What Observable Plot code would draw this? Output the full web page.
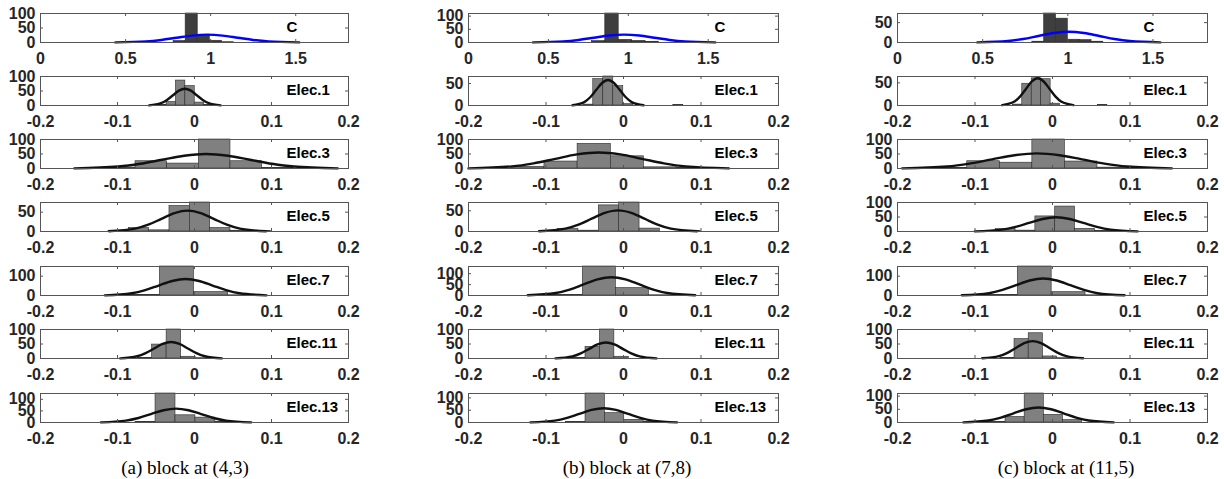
<!DOCTYPE html>
<html>
<head>
<meta charset="utf-8">
<script src="https://cdn.jsdelivr.net/npm/d3@7"></script>
<script src="https://cdn.jsdelivr.net/npm/@observablehq/plot@0.6"></script>
<style>
  html, body { margin: 0; padding: 0; background: #fff; }
  #fig { position: relative; width: 1224px; height: 479px; overflow: hidden; background: #fff; }
  .panel { position: absolute; }
  .panel svg { max-width: none !important; overflow: visible; }
  .cap { position: absolute; font-family: "Liberation Serif", "Times New Roman", serif; font-size: 19px; color: #000; transform: translate(-50%, -50%); white-space: nowrap; }
</style>
</head>
<body>
<div id="fig"></div>
<script>
// ---------- data ----------
const rowLabels = ["C", "Elec.1", "Elec.3", "Elec.5", "Elec.7", "Elec.11", "Elec.13"];
const captions = ["(a) block at (4,3)", "(b) block at (7,8)", "(c) block at (11,5)"];
const xTicksC = [0, 0.5, 1, 1.5];
const xTicksElec = [-0.2, -0.1, 0, 0.1, 0.2];
const cXMax = [1.81, 1.94, 1.82];

// column (a)
const yMaxA = [100, 100, 100, 75, 150, 100, 125];
const yTicksA = [[0, 50, 100], [0, 50, 100], [0, 50, 100], [0, 50], [0, 100], [0, 50, 100], [0, 50, 100]];
const binStartA = [0.782, -0.0485, -0.1177, -0.1117, -0.0893, -0.0738, -0.0765];
const binWidthA = [0.071, 0.0122, 0.0411, 0.0264, 0.0443, 0.0188, 0.0259];
const countsA = [[5, 100, 25, 6, 1], [2, 12, 86, 67, 10, 2], [3, 25, 17, 100, 25, 2], [2, 9, 3, 66, 75, 9, 2, 1], [3, 150, 18, 1], [2, 48, 100, 6, 1], [3, 125, 31, 21, 2]];
const fitXA = [
  [0.44, 0.62, 0.71, 0.80, 0.89, 0.98, 1.07, 1.16, 1.25, 1.34, 1.52],
  [-0.059, -0.0435, -0.03575, -0.028, -0.02025, -0.0125, -0.00475, 0.003, 0.01075, 0.0185, 0.034],
  [-0.156, -0.099, -0.0705, -0.042, -0.0135, 0.015, 0.0435, 0.072, 0.1005, 0.129, 0.186],
  [-0.111, -0.077, -0.06, -0.043, -0.026, -0.009, 0.008, 0.025, 0.042, 0.059, 0.093],
  [-0.1165, -0.0815, -0.064, -0.0465, -0.029, -0.0115, 0.006, 0.0235, 0.041, 0.0585, 0.0935],
  [-0.0965, -0.0745, -0.0635, -0.0525, -0.0415, -0.0305, -0.0195, -0.0085, 0.0025, 0.0135, 0.0355],
  [-0.1215, -0.089, -0.07275, -0.0565, -0.04025, -0.024, -0.00775, 0.0085, 0.02475, 0.041, 0.0735]
];
const fitYA = [
  [0.3, 3.7, 8.8, 16.4, 23.8, 27, 23.8, 16.4, 8.8, 3.7, 0.3],
  [0.6, 7.8, 18.8, 35.2, 51.2, 58, 51.2, 35.2, 18.8, 7.8, 0.6],
  [0.6, 6.8, 16.2, 30.3, 44.1, 50, 44.1, 30.3, 16.2, 6.8, 0.6],
  [0.6, 7.3, 17.5, 32.8, 47.7, 54, 47.7, 32.8, 17.5, 7.3, 0.6],
  [0.9, 11.5, 27.6, 51.6, 75, 85, 75, 51.6, 27.6, 11.5, 0.9],
  [0.6, 7.7, 18.5, 34.6, 50.3, 57, 50.3, 34.6, 18.5, 7.7, 0.6],
  [0.7, 8.1, 19.5, 36.4, 53, 60, 53, 36.4, 19.5, 8.1, 0.7]
];

// column (b)
const yMaxB = [110, 66, 100, 70, 133, 100, 118];
const yTicksB = [[0, 50, 100], [0, 50], [0, 50, 100], [0, 50], [0, 50, 100], [0, 50, 100], [0, 50, 100]];
const binStartB = [0.772, -0.0519, -0.1448, -0.0845, -0.0951, -0.0676, -0.074];
const binWidthB = [0.084, 0.0129, 0.0428, 0.0263, 0.0426, 0.0186, 0.025];
const countsB = [[5, 110, 10, 6, 2], [2, 60, 66, 44, 3, 0, 0, 0, 0, 1], [6, 24, 85, 42, 4, 2], [6, 2, 63, 70, 7, 0, 1], [2, 133, 34, 1], [2, 40, 100, 6], [2, 118, 38, 11, 2]];
const fitXB = [
  [0.404, 0.594, 0.689, 0.784, 0.879, 0.974, 1.069, 1.164, 1.259, 1.354, 1.544],
  [-0.0659, -0.0506, -0.04295, -0.0353, -0.02765, -0.02, -0.01235, -0.0047, 0.00295, 0.0106, 0.0259],
  [-0.2, -0.144, -0.116, -0.088, -0.06, -0.032, -0.004, 0.024, 0.052, 0.08, 0.136],
  [-0.109, -0.075, -0.058, -0.041, -0.024, -0.007, 0.01, 0.027, 0.044, 0.061, 0.095],
  [-0.1235, -0.0875, -0.0695, -0.0515, -0.0335, -0.0155, 0.0025, 0.0205, 0.0385, 0.0565, 0.0925],
  [-0.0877, -0.066, -0.05515, -0.0443, -0.03345, -0.0226, -0.01175, -0.0009, 0.00995, 0.0208, 0.0425],
  [-0.12, -0.0885, -0.07275, -0.057, -0.04125, -0.0255, -0.00975, 0.006, 0.02175, 0.0375, 0.069]
];
const fitYB = [
  [0.3, 4.1, 9.7, 18.2, 26.5, 30, 26.5, 18.2, 9.7, 4.1, 0.3],
  [0.6, 7.8, 18.8, 35.2, 51.2, 58, 51.2, 35.2, 18.8, 7.8, 0.6],
  [0.6, 7.4, 17.9, 33.4, 48.5, 55, 48.5, 33.4, 17.9, 7.4, 0.6],
  [0.6, 6.9, 16.6, 30.9, 45, 51, 45, 30.9, 16.6, 6.9, 0.6],
  [0.9, 11.4, 27.3, 50.9, 74.1, 84, 74.1, 50.9, 27.3, 11.4, 0.9],
  [0.6, 7.4, 17.9, 33.4, 48.5, 55, 48.5, 33.4, 17.9, 7.4, 0.6],
  [0.6, 7.8, 18.8, 35.2, 51.2, 58, 51.2, 35.2, 18.8, 7.8, 0.6]
];

// column (c)
const yMaxC = [73, 64, 100, 100, 150, 100, 110];
const yTicksC = [[0, 50], [0, 50], [0, 50, 100], [0, 50, 100], [0, 100], [0, 50, 100], [0, 50, 100]];
const binStartC = [0.7915, -0.0512, -0.152, -0.0733, -0.0885, -0.0673, -0.0853];
const binWidthC = [0.0695, 0.0122, 0.042, 0.0256, 0.0437, 0.0183, 0.0247];
const countsC = [[2, 73, 60, 7, 6, 2], [2, 48, 60, 58, 4, 0, 0, 0, 0, 1], [2, 25, 20, 100, 24, 3], [8, 3, 52, 86, 9, 2, 1], [2, 150, 17, 1], [2, 67, 87, 7, 1], [2, 21, 110, 29, 9]];
const fitXC = [
  [0.469, 0.648, 0.7375, 0.827, 0.9165, 1.006, 1.0955, 1.185, 1.2745, 1.364, 1.543],
  [-0.0649, -0.0496, -0.04195, -0.0343, -0.02665, -0.019, -0.01135, -0.0037, 0.00395, 0.0116, 0.0269],
  [-0.194, -0.136, -0.107, -0.078, -0.049, -0.02, 0.009, 0.038, 0.067, 0.096, 0.154],
  [-0.1002, -0.0652, -0.0477, -0.0302, -0.0127, 0.0048, 0.0223, 0.0398, 0.0573, 0.0748, 0.1098],
  [-0.117, -0.082, -0.0645, -0.047, -0.0295, -0.012, 0.0055, 0.023, 0.0405, 0.058, 0.093],
  [-0.0907, -0.069, -0.05815, -0.0473, -0.03645, -0.0256, -0.01475, -0.0039, 0.00695, 0.0178, 0.0395],
  [-0.1149, -0.0826, -0.06645, -0.0503, -0.03415, -0.018, -0.00185, 0.0143, 0.03045, 0.0466, 0.0789]
];
const fitYC = [
  [0.3, 3.7, 8.8, 16.4, 23.8, 27, 23.8, 16.4, 8.8, 3.7, 0.3],
  [0.7, 8.1, 19.5, 36.4, 53, 60, 53, 36.4, 19.5, 8.1, 0.7],
  [0.6, 7.0, 16.9, 31.5, 45.9, 52, 45.9, 31.5, 16.9, 7.0, 0.6],
  [0.5, 6.6, 15.9, 29.7, 43.2, 49, 43.2, 29.7, 15.9, 6.6, 0.5],
  [1.0, 11.9, 28.6, 53.4, 77.7, 88, 77.7, 53.4, 28.6, 11.9, 1.0],
  [0.7, 8.1, 19.5, 36.4, 53, 60, 53, 36.4, 19.5, 8.1, 0.7],
  [0.6, 7.7, 18.5, 34.6, 50.3, 57, 50.3, 34.6, 18.5, 7.7, 0.6]
];

// ---------- layout ----------
const columns = [
  {yMax: yMaxA, yTicks: yTicksA, binStart: binStartA, binWidth: binWidthA, counts: countsA, fitX: fitXA, fitY: fitYA},
  {yMax: yMaxB, yTicks: yTicksB, binStart: binStartB, binWidth: binWidthB, counts: countsB, fitX: fitXB, fitY: fitYB},
  {yMax: yMaxC, yTicks: yTicksC, binStart: binStartC, binWidth: binWidthC, counts: countsC, fitX: fitXC, fitY: fitYC}
];
const boxLeft = [40, 468, 897];
const boxWidth = [308, 310, 310];
const boxTop = [13, 76, 139, 202, 266, 329, 393];
const boxH = 29;
const capX = [185, 627, 1066];
const capY = 468;
const mL = 40, mR = 12, mT = 8, mB = 28;
const tickFont = 16, labelFont = 15;

const fig = document.getElementById("fig");

columns.forEach((col, ci) => {
  rowLabels.forEach((label, ri) => {
    const isC = ri === 0;
    const ymax = col.yMax[ri];
    const xTicks = isC ? xTicksC : xTicksElec;
    const yTicks = col.yTicks[ri];
    const bars = col.counts[ri].map((n, i) => ({
      x1: col.binStart[ri] + i * col.binWidth[ri],
      x2: col.binStart[ri] + (i + 1) * col.binWidth[ri],
      n: Math.min(n, ymax)
    })).filter(d => d.n > 0);
    const fit = col.fitX[ri].map((x, i) => ({x, y: col.fitY[ri][i]}));
    const bw = boxWidth[ci];
    const chart = Plot.plot({
      width: mL + bw + mR,
      height: mT + boxH + mB,
      marginLeft: mL, marginRight: mR, marginTop: mT, marginBottom: mB,
      style: {
        fontFamily: "'Liberation Sans', Arial, sans-serif",
        fontSize: tickFont + "px",
        fontWeight: "bold",
        color: "#262626",
        background: "transparent",
        overflow: "visible"
      },
      x: {domain: isC ? [0, cXMax[ci]] : [-0.2, 0.2], label: null},
      y: {domain: [0, ymax], label: null},
      marks: [
        Plot.rectY(bars, {x1: "x1", x2: "x2", y1: 0, y2: "n",
          fill: isC ? "#3e3e3e" : "#808080", stroke: "#2a2a2a", strokeWidth: 0.6}),
        Plot.line(fit, {x: "x", y: "y", stroke: isC ? "#0000ff" : "#111", strokeWidth: 2.4, curve: "monotone-x"}),
        Plot.frame({stroke: "#555", strokeWidth: 1}),
        Plot.tickX(xTicks, {x: d => d, insetTop: boxH - 3, stroke: "#555"}),
        Plot.tickX(xTicks, {x: d => d, insetBottom: boxH - 3, stroke: "#555"}),
        Plot.tickY(yTicks, {y: d => d, insetRight: bw - 3, stroke: "#555"}),
        Plot.tickY(yTicks, {y: d => d, insetLeft: bw - 3, stroke: "#555"}),
        Plot.axisX({ticks: xTicks, tickSize: 0, tickPadding: 10, tickFormat: d => String(d), fontSize: tickFont, fontWeight: "bold", fill: "#262626"}),
        Plot.axisY({ticks: yTicks, tickSize: 0, tickPadding: 5, tickFormat: d => String(d), fontSize: tickFont, fontWeight: "bold", fill: "#262626"}),
        Plot.text([label], {frameAnchor: "top-left", text: d => d, dx: 246, dy: 8,
          textAnchor: "start", fontSize: labelFont, fontWeight: "bold", fill: "#000"})
      ]
    });
    const wrap = document.createElement("div");
    wrap.className = "panel";
    wrap.style.left = (boxLeft[ci] - mL) + "px";
    wrap.style.top = (boxTop[ri] - mT) + "px";
    wrap.appendChild(chart);
    fig.appendChild(wrap);
  });
  const cap = document.createElement("div");
  cap.className = "cap";
  cap.style.left = capX[ci] + "px";
  cap.style.top = capY + "px";
  cap.textContent = captions[ci];
  fig.appendChild(cap);
});
</script>
</body>
</html>
